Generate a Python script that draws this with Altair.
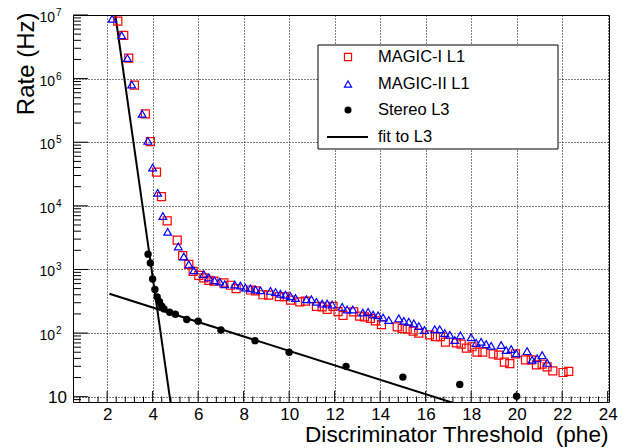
import altair as alt
import pandas as pd

# ---- data ----
m1_x = [2.47, 2.73, 2.95, 3.20, 3.68, 3.90, 4.17, 4.39, 4.64, 5.08, 5.32, 5.59, 5.78, 6.03,
        6.25, 6.47, 6.69, 7.13, 7.42, 7.67, 8.30, 8.52, 8.85, 9.10, 9.57, 9.79, 10.06, 10.47,
        10.72, 11.20, 11.45, 11.67, 11.93, 12.15, 12.37, 12.84, 13.10, 13.31, 13.57, 13.79,
        14.06, 14.75, 14.97, 15.19, 15.45, 15.70, 16.17, 16.43, 16.65, 16.87, 17.35, 17.56,
        17.79, 18.04, 18.26, 18.51, 18.97, 19.21, 19.46, 19.70, 19.95, 20.39, 20.64, 20.87,
        21.12, 21.34, 21.59, 22.04, 22.29]
m1_y = [8.0e6, 4.8e6, 2.1e6, 7.9e5, 2.8e5, 1.02e5, 3.4e4, 1.4e4, 5.8e3, 2.9e3, 1.65e3, 1.2e3,
        930, 810, 740, 675, 655, 615, 565, 500, 475, 460, 400, 395, 375, 375, 330, 310,
        318, 262, 258, 235, 262, 218, 190, 215, 185, 180, 170, 156,
        136, 125, 118, 115, 107, 100, 94, 88, 88, 72, 70, 67,
        58, 61, 50, 50, 47, 45, 35, 33, 47, 38, 38, 31.6,
        32.5, 29.5, 25.4, 24, 25]

m2_x = [2.22, 2.64, 2.89, 3.08, 3.54, 3.79, 4.00, 4.22, 4.45, 4.66, 5.13, 5.37, 5.59, 5.81,
        6.25, 6.47, 6.72, 6.95, 7.17, 7.61, 7.86, 8.08, 8.30, 8.52, 8.74, 9.18, 9.40, 9.62,
        9.84, 10.06, 10.28, 10.76, 10.98, 11.20, 11.45, 11.67, 11.89, 12.33, 12.55, 12.80,
        13.24, 13.47, 13.69, 13.91, 14.13, 14.38, 14.82, 15.04, 15.26, 15.48, 15.70, 15.95,
        16.40, 16.62, 16.84, 17.06, 17.28, 17.53, 18.00, 18.22, 18.44, 18.66, 18.88, 19.32,
        19.54, 19.76, 19.98, 20.46, 20.68, 20.90, 21.12, 21.34]
m2_y = [8.7e6, 4.8e6, 2.1e6, 8.1e5, 2.8e5, 1.05e5, 4.0e4, 1.6e4, 6.9e3, 3.9e3, 2.3e3, 1.6e3,
        1.2e3, 970, 850, 750, 675, 645, 585, 580, 560, 520, 505, 485, 470, 460, 440, 415,
        400, 380, 355, 340, 340, 310, 290, 290, 280, 258, 235, 235,
        210, 215, 195, 190, 175, 160, 170, 156, 151, 142, 129, 112,
        115, 115, 100, 94, 78, 92, 86, 70, 73, 67, 63, 65,
        54, 56, 48, 52, 38, 40, 45, 34]

l3_x = [3.8, 3.9, 4.0, 4.1, 4.2, 4.3, 4.4, 4.5, 4.75, 5.0, 5.5, 6.0, 7.0, 8.5, 10.0, 12.5,
        15.0, 17.5, 20.0]
l3_y = [1740, 1260, 710, 484, 370, 310, 265, 240, 213, 198, 163, 154, 112, 76, 50, 30,
        20.3, 15.6, 10.2]

fit_seg = ["steep", "steep", "flat", "flat"]
fit_x = [2.1, 5.0, 2.1, 17.3]
fit_y = [4.5e7, 2.37, 414, 7.8]

x_major = [2, 4, 6, 8, 10, 12, 14, 16, 18, 20, 22, 24]
x_minor = [round(0.8 + 0.4 * i, 2) for i in range(59) if abs((0.8 + 0.4 * i) / 2 - round((0.8 + 0.4 * i) / 2)) > 1e-6]
y_major = [10, 100, 1000, 1e4, 1e5, 1e6, 1e7]
y_minor = [m * 10 ** k for k in range(0, 7) for m in range(2, 10) if m * 10 ** k >= 8.3]
y_exp = ["2", "3", "4", "5", "6", "7"]
legend_labels = ["MAGIC-I L1", "MAGIC-II L1", "Stereo L3", "fit to L3"]

# ---- layout ----
W, H = 536, 387
FONT = "Liberation Sans"
xs = alt.Scale(domain=[0.5, 24.06], nice=False, zero=False)
ys = alt.Scale(type="log", domain=[8.25, 1e7], nice=False)

xaxis = alt.Axis(values=x_major, grid=True, gridColor="black", gridDash=[1, 2], gridWidth=1,
                 gridOpacity=1, ticks=False, domain=False, labelFontSize=17, labelColor="black",
                 labelFont=FONT, labelBaseline="alphabetic", labelPadding=17, labelFlush=False,
                 labelOverlap=False, format="d",
                 title="Discriminator Threshold\u00a0 (phe)", titleFont=FONT, titleFontSize=22.6,
                 titleFontWeight="normal", titleColor="black", titleX=535, titleY=39,
                 titleAlign="right", titleBaseline="alphabetic", titleAngle=0)
yaxis = alt.Axis(values=y_major, grid=True, gridColor="black", gridDash=[1, 2], gridWidth=1,
                 gridOpacity=1, ticks=False, domain=False, labels=False,
                 title="Rate (Hz)", titleFont=FONT, titleFontSize=24, titleFontWeight="normal",
                 titleColor="black", titleX=-40, titleY=-3, titleAlign="right",
                 titleBaseline="alphabetic", titleAngle=270)

X = lambda: alt.X("x:Q", scale=xs, axis=xaxis)
Y = lambda: alt.Y("y:Q", scale=ys, axis=yaxis)

m1 = alt.Chart(pd.DataFrame({"x": m1_x, "y": m1_y})).mark_point(
    shape="square", size=64, color="red", strokeWidth=1.2, filled=False, opacity=1, clip=True
).encode(x=X(), y=Y())
m2 = alt.Chart(pd.DataFrame({"x": m2_x, "y": m2_y})).mark_point(
    shape="triangle-up", size=60, color="blue", strokeWidth=1.2, filled=False, opacity=1, clip=True
).encode(x=X(), y=Y())
l3 = alt.Chart(pd.DataFrame({"x": l3_x, "y": l3_y})).mark_circle(
    size=55, color="black", opacity=1, clip=True
).encode(x=X(), y=Y())
fits = alt.Chart(pd.DataFrame({"x": fit_x, "y": fit_y, "seg": fit_seg})).mark_line(
    color="black", strokeWidth=2, clip=True
).encode(x=X(), y=Y(), detail="seg:N")

xt_major = alt.Chart(pd.DataFrame({"x": x_major})).mark_rule(color="black", strokeWidth=1).encode(
    x=X(), y=alt.value(H), y2=alt.value(H - 11))
xt_minor = alt.Chart(pd.DataFrame({"x": x_minor})).mark_rule(color="black", strokeWidth=1).encode(
    x=X(), y=alt.value(H), y2=alt.value(H - 5.5))
yt_major = alt.Chart(pd.DataFrame({"y": y_major})).mark_rule(color="black", strokeWidth=1).encode(
    y=Y(), x=alt.value(0), x2=alt.value(15))
yt_minor = alt.Chart(pd.DataFrame({"y": y_minor})).mark_rule(color="black", strokeWidth=1).encode(
    y=Y(), x=alt.value(0), x2=alt.value(8))

ylab_df = pd.DataFrame({"y": y_major[1:], "exp": y_exp, "base": ["10"] * 6})
ylab_base = alt.Chart(ylab_df).mark_text(
    align="right", baseline="middle", fontSize=14, dy=3, font=FONT, color="black"
).encode(y=Y(), x=alt.value(-18), text="base:N")
ylab_exp = alt.Chart(ylab_df).mark_text(
    align="left", baseline="middle", fontSize=10, dy=-2, font=FONT, color="black"
).encode(y=Y(), x=alt.value(-17), text="exp:N")
ylab_ten = alt.Chart(pd.DataFrame({"y": [10], "base": ["10"]})).mark_text(
    align="right", baseline="middle", fontSize=17, dy=1, font=FONT, color="black"
).encode(y=Y(), x=alt.value(-6), text="base:N")

# ---- legend (drawn in pixel space) ----
LX0, LX1, LY0, LY1 = 245, 485, 30, 134
rows = [42, 69, 95, 122]
leg_box = alt.Chart(pd.DataFrame({"a": [0]})).mark_rect(
    fill="white", stroke="black", strokeWidth=1
).encode(x=alt.value(LX0), x2=alt.value(LX1), y=alt.value(LY0), y2=alt.value(LY1))
leg_layers = [leg_box]
for lab, ry in zip(legend_labels, rows):
    leg_layers.append(alt.Chart(pd.DataFrame({"label": [lab]})).mark_text(
        align="left", baseline="middle", fontSize=16.5, font=FONT, color="black"
    ).encode(x=alt.value(305), y=alt.value(ry), text="label:N"))
leg_layers.append(alt.Chart(pd.DataFrame({"a": [0]})).mark_point(
    shape="square", size=50, color="red", strokeWidth=1.2, filled=False, opacity=1
).encode(x=alt.value(275), y=alt.value(rows[0])))
leg_layers.append(alt.Chart(pd.DataFrame({"a": [0]})).mark_point(
    shape="triangle-up", size=50, color="blue", strokeWidth=1.2, filled=False, opacity=1
).encode(x=alt.value(275), y=alt.value(rows[1])))
leg_layers.append(alt.Chart(pd.DataFrame({"a": [0]})).mark_circle(
    size=50, color="black", opacity=1
).encode(x=alt.value(275), y=alt.value(rows[2])))
leg_layers.append(alt.Chart(pd.DataFrame({"a": [0]})).mark_rule(
    color="black", strokeWidth=2
).encode(x=alt.value(254), x2=alt.value(295), y=alt.value(rows[3])))

chart = alt.layer(
    xt_minor, xt_major, yt_minor, yt_major, fits, m1, m2, l3,
    ylab_base, ylab_exp, ylab_ten, *leg_layers
).properties(
    width=W, height=H,
    autosize=alt.AutoSizeParams(type="none"),
    padding={"left": 65, "top": 7, "right": 14, "bottom": 46},
    background="white",
).configure_view(stroke="black", strokeWidth=1)

chart.save("out.html", embed_options={"renderer": "svg", "actions": False})
